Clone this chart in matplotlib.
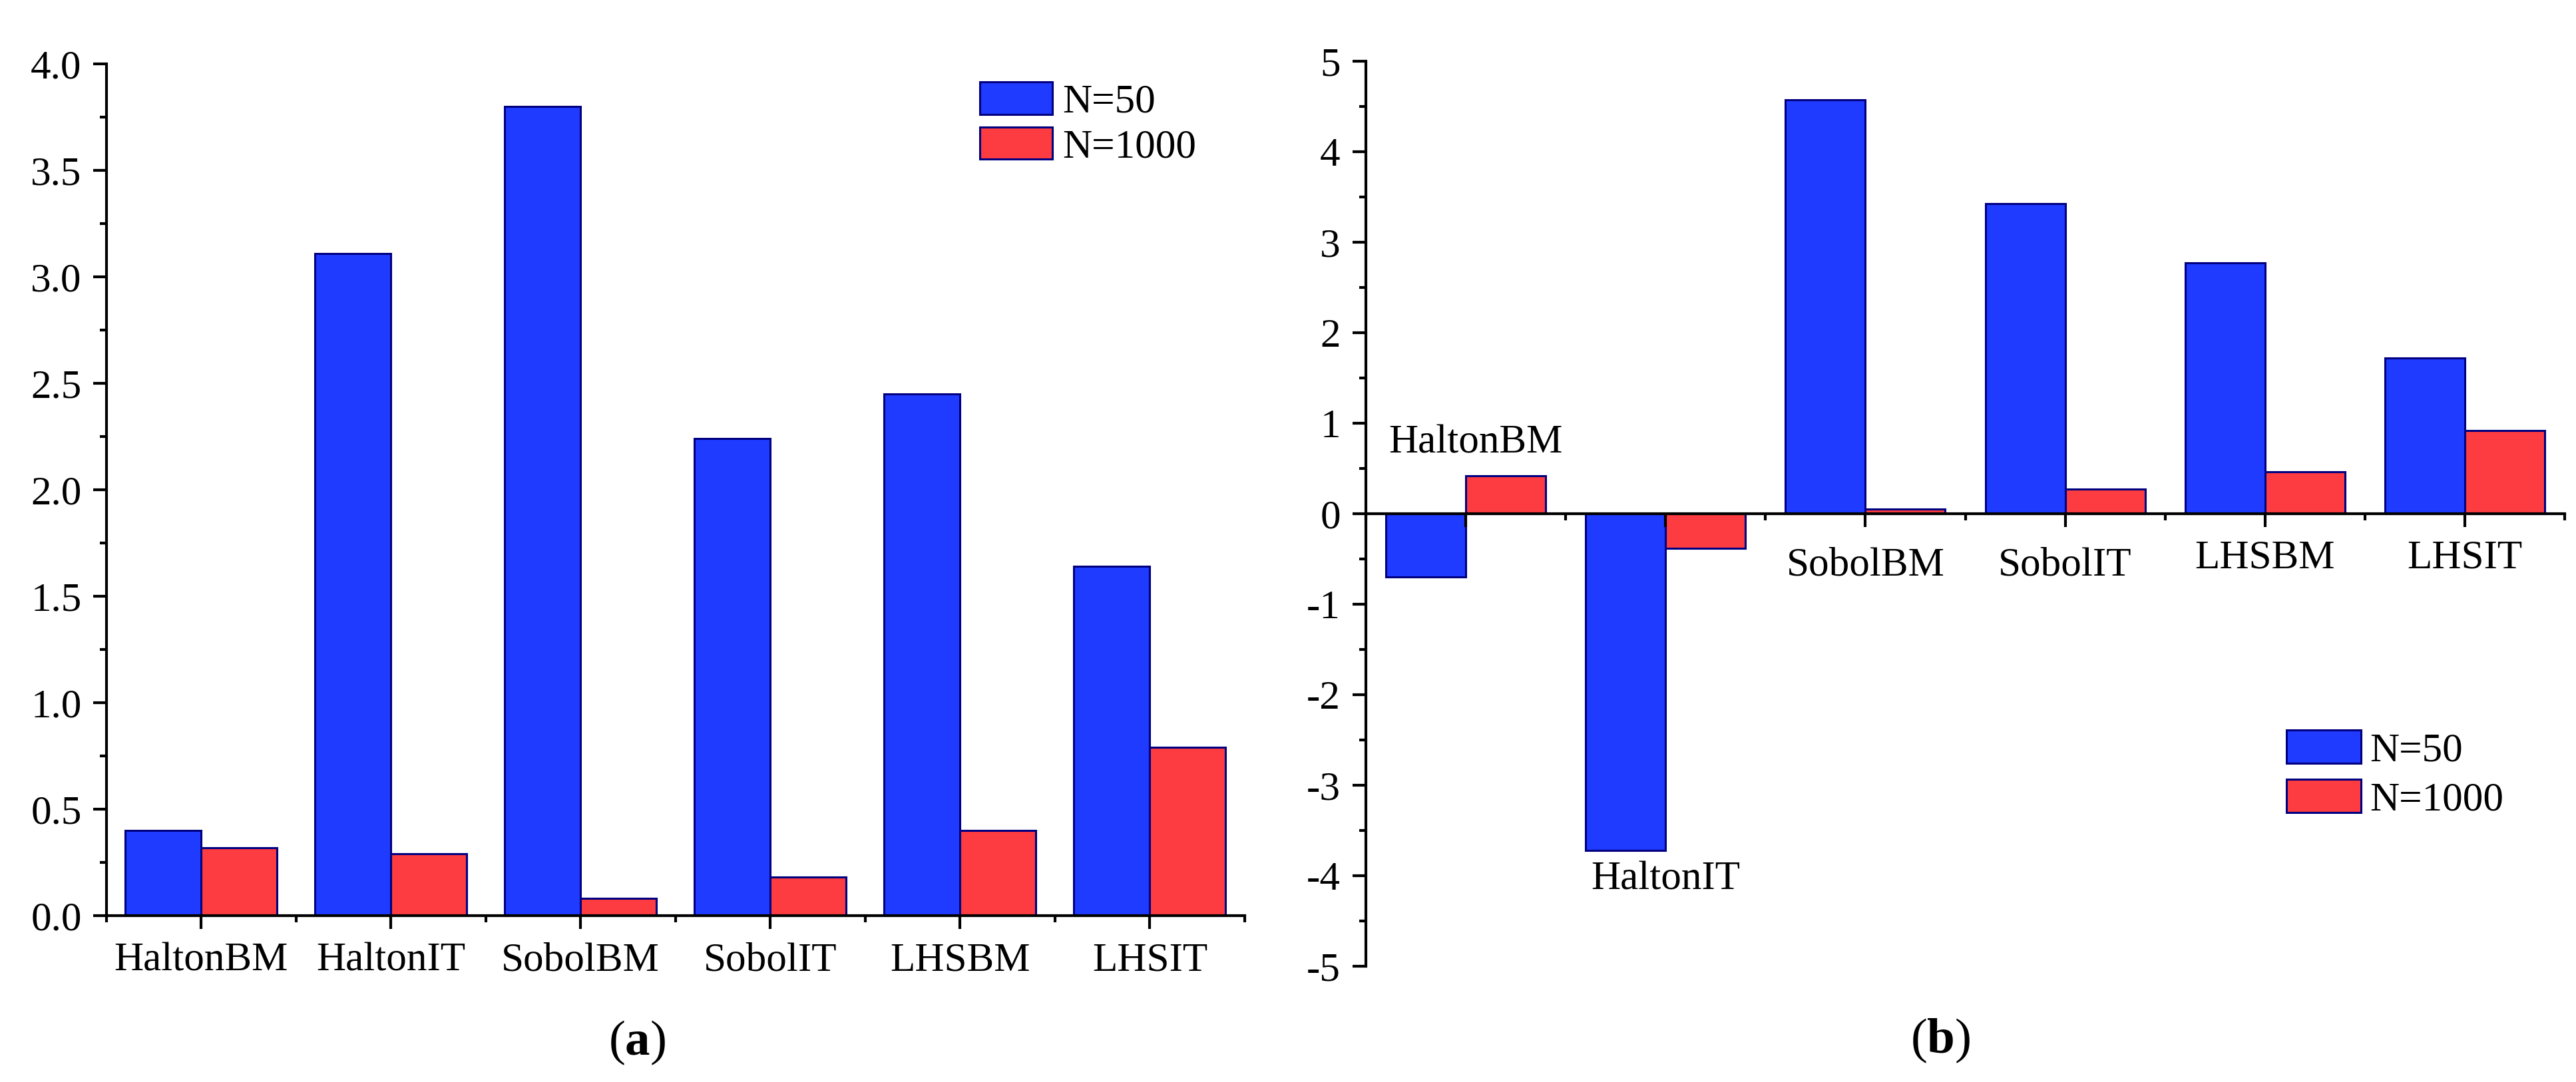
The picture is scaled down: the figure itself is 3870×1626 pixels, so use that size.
import matplotlib
matplotlib.use("Agg")
import matplotlib.pyplot as plt
import numpy as np
from matplotlib.ticker import FixedLocator, MultipleLocator

# ---------------- data ----------------
categories = ["HaltonBM", "HaltonIT", "SobolBM", "SobolIT", "LHSBM", "LHSIT"]
series_names = ["N=50", "N=1000"]
a_n50 = [0.40, 3.11, 3.80, 2.24, 2.45, 1.64]
a_n1000 = [0.32, 0.29, 0.08, 0.18, 0.40, 0.79]
b_n50 = [-0.70, -3.72, 4.57, 3.43, 2.77, 1.72]
b_n1000 = [0.42, -0.38, 0.05, 0.27, 0.46, 0.92]
a_yticklabels = ["0.0", "0.5", "1.0", "1.5", "2.0", "2.5", "3.0", "3.5", "4.0"]
b_yticklabels = ["-5", "-4", "-3", "-2", "-1", "0", "1", "2", "3", "4", "5"]
# label positions (data coords) for panel b category names
b_label_pos = [(0.05, 0.78), (1.0, -4.04), (2.0, -0.57), (2.0 + 1.0, -0.57),
               (4.0, -0.49), (5.0, -0.49)]

# ---------------- style ----------------
plt.rcParams['font.family'] = ['Liberation Serif', 'DejaVu Serif']
plt.rcParams['mathtext.fontset'] = 'custom'
plt.rcParams['mathtext.rm'] = 'Liberation Serif'
plt.rcParams['mathtext.bf'] = 'Liberation Serif:bold'
FS = 44
BLUE = '#1f3bff'
RED = '#fc3c40'
EDGE = '#000080'
LW = 3.0
EW = 2.2

fig = plt.figure(figsize=(38.7, 16.26), dpi=100)
W, H = 3870, 1626

def fx(px):
    return px / W

def fy(py):
    return 1 - py / H

axA = fig.add_axes([fx(159.5), fy(1376), fx(1870) - fx(159.5), fy(96) - fy(1376)])
axB = fig.add_axes([fx(2052), fy(1452), fx(3853) - fx(2052), fy(92) - fy(1452)])

x = np.arange(len(categories))
bw = 0.4

def style(ax):
    for s in ['top', 'right']:
        ax.spines[s].set_visible(False)
    for s in ['left', 'bottom']:
        ax.spines[s].set_linewidth(LW)
    ax.tick_params(which='major', direction='out', length=14.5, width=LW, labelsize=FS)
    ax.tick_params(which='minor', direction='out', length=7, width=LW)
    ax.xaxis.set_minor_locator(FixedLocator(np.arange(-0.5, len(categories), 1.0)))

# ---- panel a ----
hA1 = axA.bar(x - bw / 2, a_n50, bw, color=BLUE, edgecolor=EDGE, linewidth=EW, label=series_names[0])
hA2 = axA.bar(x + bw / 2, a_n1000, bw, color=RED, edgecolor=EDGE, linewidth=EW, label=series_names[1])
axA.set_xlim(-0.5, 5.5)
axA.set_ylim(0, 4.0)
style(axA)
axA.set_yticks(np.arange(0, 4.01, 0.5))
axA.set_yticklabels(a_yticklabels)
axA.yaxis.set_minor_locator(MultipleLocator(0.25))
axA.set_xticks(x)
axA.set_xticklabels(categories)
axA.tick_params(axis='x', which='major', pad=14)
axA.tick_params(axis='y', which='major', pad=12)
axA.legend(handles=[hA1, hA2], loc='upper left', bbox_to_anchor=(fx(1472), fy(123)),
           bbox_transform=fig.transFigure, frameon=False, fontsize=FS, borderpad=0,
           handlelength=1.78, handleheight=0.85, handletextpad=0.25, labelspacing=0.15,
           borderaxespad=0)
for lab in axA.get_xticklabels() + axA.get_yticklabels():
    lab.set_fontsize(FS)

# ---- panel b ----
hB1 = axB.bar(x - bw / 2, b_n50, bw, color=BLUE, edgecolor=EDGE, linewidth=EW, label=series_names[0])
hB2 = axB.bar(x + bw / 2, b_n1000, bw, color=RED, edgecolor=EDGE, linewidth=EW, label=series_names[1])
axB.set_xlim(-0.5, 5.5)
axB.set_ylim(-5, 5)
style(axB)
axB.spines['bottom'].set_position(('data', 0))
axB.set_yticks(np.arange(-5, 5.01, 1))
axB.set_yticklabels(b_yticklabels)
axB.yaxis.set_minor_locator(MultipleLocator(0.5))
axB.set_xticks(x)
axB.set_xticklabels([])
axB.tick_params(axis='y', which='major', pad=13)
for cat, (px, py) in zip(categories, b_label_pos):
    axB.text(px, py, cat, ha='center', va='center', fontsize=FS)
axB.legend(handles=[hB1, hB2], loc='upper left', bbox_to_anchor=(fx(3435), fy(1097)),
           bbox_transform=fig.transFigure, frameon=False, fontsize=FS, borderpad=0,
           handlelength=1.83, handleheight=0.88, handletextpad=0.22, labelspacing=0.25,
           borderaxespad=0)

# ---- panel labels ----
fig.text(fx(957), fy(1567), r'($\mathbf{a}$)', ha='center', va='center', fontsize=54)
fig.text(fx(2915), fy(1564), r'($\mathbf{b}$)', ha='center', va='center', fontsize=54)

fig.savefig('out.png', dpi=100, facecolor='white')
